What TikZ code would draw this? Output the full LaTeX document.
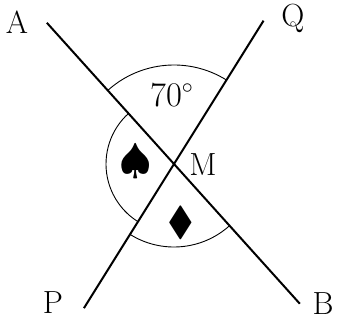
\documentclass[tikz,border=0pt]{standalone}
\usepackage{amsmath,amssymb}

\begin{document}
\begin{tikzpicture}[x=0.5pt,y=0.5pt]
\tikzset{
  ptlabel/.style={inner sep=0pt,font=\fontsize{16}{19}\selectfont},
  suitmark/.style={inner sep=0pt,font=\fontsize{20}{24}\selectfont},
  ray/.style={line width=1pt},
  anglearc/.style={line width=0.45pt}
}
\useasboundingbox (-174,-161) rectangle (166,164);
\coordinate (n_M) at (0,0);
\coordinate (n_A) at (132:190);
\coordinate (n_B) at (312:188);
\coordinate (n_Q) at (58:169);
\coordinate (n_P) at (238:170);
% the two crossing lines
\draw[ray] (n_A) -- (n_B);
\draw[ray] (n_P) -- (n_Q);
% angle marks
\draw[anglearc] ([shift={(132:99)}]n_M) arc[start angle=132, end angle=58, radius=99];
\draw[anglearc] ([shift={(132:68)}]n_M) arc[start angle=132, end angle=238, radius=68];
\draw[anglearc] ([shift={(238:83)}]n_M) arc[start angle=238, end angle=312, radius=83];
\node[ptlabel] (l_A) at (-157,142) {A};
\node[ptlabel] (l_Q) at (119,146) {Q};
\node[ptlabel] (l_P) at (-121,-139) {P};
\node[ptlabel] (l_B) at (149,-140) {B};
\node[ptlabel] (l_M) at (29,-1) {M};
\node[ptlabel] (l_deg) at (-2,69) {$70^\circ$};
\node[suitmark] (l_spade) at (-38,2) {$\spadesuit$};
\node[suitmark] (l_diam) at (7,-59) {$\blacklozenge$};
\end{tikzpicture}
\end{document}
